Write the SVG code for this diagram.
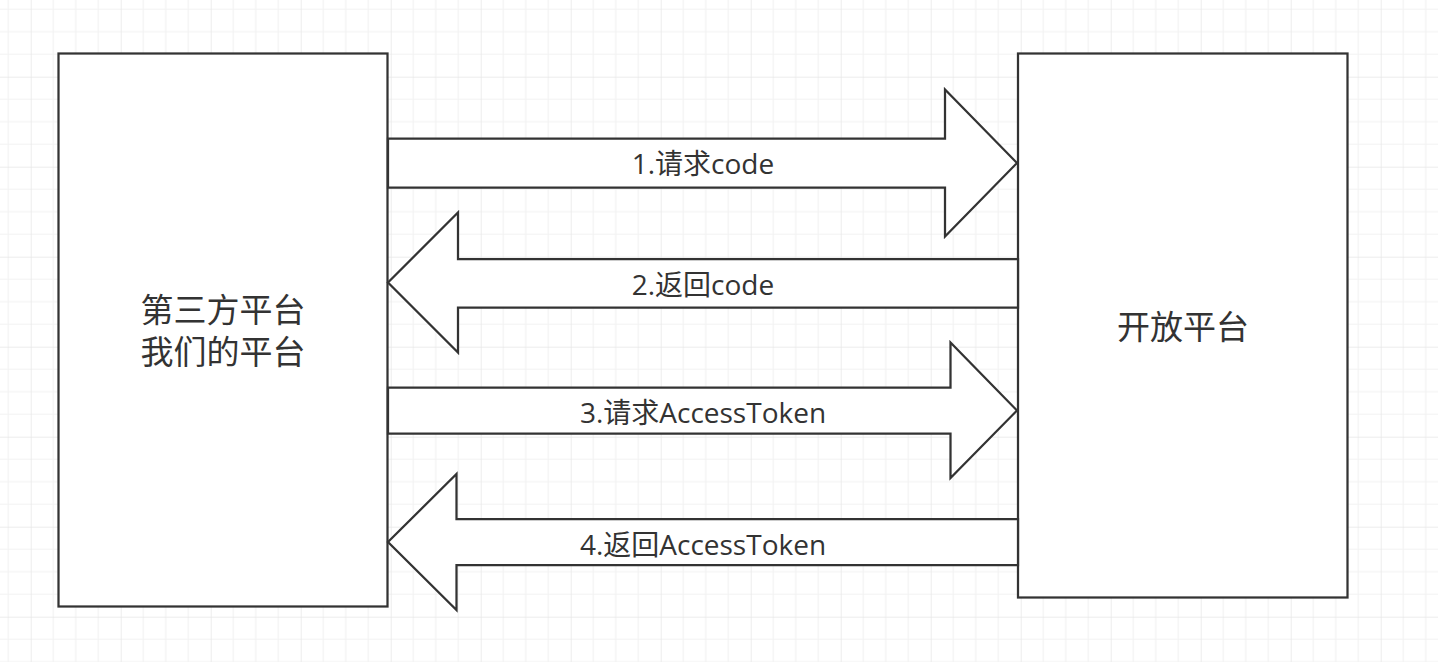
<svg xmlns="http://www.w3.org/2000/svg" width="1438" height="662" viewBox="0 0 1438 662">
  <defs>
    <pattern id="grid" patternUnits="userSpaceOnUse" x="30.7" y="76.7" width="90" height="90">
      <path d="M22.5 0V90M45 0V90M67.5 0V90M0 22.5H90M0 45H90M0 67.5H90" fill="none" stroke="#f2f2f2" stroke-width="1.2"/>
      <path d="M0 0V90M0 0H90" fill="none" stroke="#e6e6e6" stroke-width="1.4"/>
    </pattern>
  </defs>
  <style>
    .shape { fill: #ffffff; stroke: #333333; stroke-width: 2.25; stroke-linejoin: miter; }
    .lbl { font-family: "Open Sans", "Noto Sans CJK SC", sans-serif; fill: #333333; text-anchor: middle; }
    .big { font-size: 33px; }
    .arr { font-size: 28px; }
  </style>
  <rect x="0" y="0" width="1438" height="662" fill="#ffffff"/>
  <rect x="0" y="0" width="1438" height="662" fill="url(#grid)"/>

  <g id="node-third-party">
    <rect class="shape" x="58.5" y="53.5" width="329" height="553"/>
    <text class="lbl big" x="223" y="322">第三方平台</text>
    <text class="lbl big" x="223" y="364">我们的平台</text>
  </g>

  <g id="node-open-platform">
    <rect class="shape" x="1018" y="53.5" width="329.5" height="544"/>
    <text class="lbl big" x="1183" y="339">开放平台</text>
  </g>

  <g id="connectors">
    <g id="arrow-1">
      <polygon class="shape" points="388,138.5 945,138.5 945,89.5 1017,163 945,236.5 945,187.5 388,187.5"/>
      <text class="lbl arr" x="703" y="174">1.请求code</text>
    </g>
    <g id="arrow-2">
      <polygon class="shape" points="1018,259 458,259 458,212.5 388,282.5 458,352.5 458,307.5 1018,307.5"/>
      <text class="lbl arr" x="703" y="295">2.返回code</text>
    </g>
    <g id="arrow-3">
      <polygon class="shape" points="388,387.5 950.5,387.5 950.5,342.5 1017,410.5 950.5,478 950.5,433.5 388,433.5"/>
      <text class="lbl arr" x="703" y="423">3.请求AccessToken</text>
    </g>
    <g id="arrow-4">
      <polygon class="shape" points="1018,519 456.5,519 456.5,474 388,542 456.5,610 456.5,565 1018,565"/>
      <text class="lbl arr" x="703" y="555">4.返回AccessToken</text>
    </g>
  </g>
</svg>
